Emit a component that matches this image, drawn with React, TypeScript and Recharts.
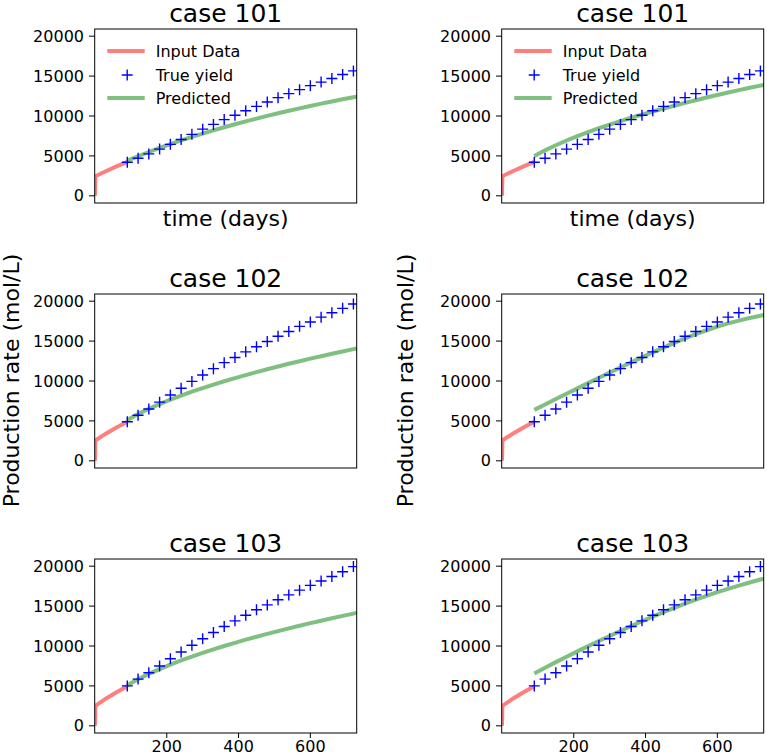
import { ComposedChart, Line, XAxis, YAxis } from "recharts"

const FONT = "'DejaVu Sans', sans-serif"

// x values (days)
const inputDays = [0, 1, 30, 60, 90]
const yieldDays = [90, 120, 150, 180, 210, 240, 270, 300, 330, 360, 390, 420, 450, 480, 510, 540, 570, 600, 630, 660, 690, 720]
const predictedDays = [90, 120, 150, 180, 210, 240, 270, 300, 330, 360, 390, 420, 450, 480, 510, 540, 570, 600, 630, 660, 690, 720, 730]

const xTicks = [200, 400, 600]
const yTicks = [0, 5000, 10000, 15000, 20000]
const caseNames = ["case 101", "case 102", "case 103"]

// input data per case
const input101 = [0, 2450, 3080, 3680, 4250]
const input102 = [0, 2550, 3400, 4180, 4900]
const input103 = [0, 2500, 3400, 4200, 4950]

// true yield per case
const true101 = [4200, 4700, 5250, 5850, 6450, 7050, 7700, 8350, 8950, 9550, 10100, 10650, 11200, 11750, 12300, 12800, 13300, 13800, 14250, 14700, 15200, 15650]
const true102 = [4900, 5700, 6500, 7350, 8250, 9100, 9950, 10750, 11550, 12300, 12950, 13650, 14300, 14950, 15600, 16200, 16850, 17400, 18000, 18550, 19100, 19650]
const true103 = [5000, 5850, 6650, 7500, 8400, 9250, 10100, 10900, 11700, 12450, 13150, 13850, 14550, 15150, 15800, 16400, 17000, 17600, 18150, 18700, 19300, 19950]

// predicted, left column
const predLeft101 = [4400, 4960, 5490, 5995, 6475, 6935, 7375, 7795, 8200, 8590, 8965, 9325, 9675, 10015, 10340, 10655, 10960, 11255, 11545, 11825, 12090, 12340, 12420]
const predLeft102 = [5100, 5850, 6515, 7115, 7665, 8175, 8660, 9115, 9550, 9965, 10360, 10745, 11115, 11470, 11815, 12155, 12480, 12800, 13110, 13410, 13705, 13995, 14090]
const predLeft103 = [5080, 5840, 6510, 7110, 7670, 8190, 8680, 9140, 9580, 10000, 10400, 10790, 11160, 11520, 11870, 12210, 12540, 12860, 13170, 13470, 13770, 14060, 14160]

// predicted, right column
const predRight101 = [5000, 5700, 6340, 6930, 7480, 7990, 8470, 8930, 9360, 9780, 10180, 10560, 10930, 11290, 11640, 11980, 12310, 12630, 12940, 13240, 13530, 13810, 13900]
const predRight102 = [6380, 7060, 7735, 8405, 9073, 9738, 10398, 11050, 11695, 12333, 12963, 13583, 14188, 14773, 15333, 15863, 16358, 16818, 17220, 17570, 17890, 18180, 18270]
const predRight103 = [6560, 7280, 7980, 8660, 9325, 9980, 10625, 11260, 11885, 12500, 13100, 13680, 14240, 14780, 15300, 15800, 16280, 16740, 17160, 17560, 17950, 18330, 18420]

const inputs = [input101, input102, input103]
const trues = [true101, true102, true103]
const preds = [
  [predLeft101, predRight101],
  [predLeft102, predRight102],
  [predLeft103, predRight103],
]

// layout
const colLeft = [94.7, 501.7]
const rowTop = [29, 294, 559]
const PW = 262
const PH = 174
const AXW = 80

const toPoints = (days: number[], values: number[]) => days.map((x, i) => ({ x, y: values[i] }))

const plus = (props: any) => {
  const { cx, cy, index } = props
  if (cx == null || cy == null) return <g key={`e-${index}`} />
  return (
    <path
      key={`p-${index}`}
      d={`M${cx - 5.5},${cy}H${cx + 5.5}M${cx},${cy - 5.5}V${cy + 5.5}`}
      stroke="#0000ff"
      strokeWidth={1.4}
      fill="none"
    />
  )
}

function Panel({ row, col }: { row: number; col: number }) {
  const last = row === 2
  const axisH = last ? 23 : 40
  return (
    <div style={{ position: "absolute", left: colLeft[col] - AXW, top: rowTop[row] - 10 }}>
      <ComposedChart width={AXW + PW + 6} height={10 + PH + axisH} margin={{ top: 10, right: 6, left: 0, bottom: 0 }}>
        <XAxis
          type="number"
          dataKey="x"
          domain={[0, 730]}
          ticks={xTicks}
          allowDataOverflow
          axisLine={false}
          tickSize={5}
          tickMargin={2.5}
          height={axisH}
          tick={last ? { fontSize: 16, fontFamily: FONT, fill: "#000" } : false}
          tickLine={{ stroke: "#000" }}
        />
        <YAxis
          type="number"
          domain={[-900, 20900]}
          ticks={yTicks}
          allowDataOverflow
          axisLine={false}
          width={AXW}
          tickSize={6}
          tickMargin={5}
          tick={{ fontSize: 16, fontFamily: FONT, fill: "#000" }}
          tickLine={{ stroke: "#000" }}
        />
        <Line
          data={toPoints(inputDays, inputs[row])}
          dataKey="y"
          type="linear"
          stroke="#ff0000"
          strokeOpacity={0.5}
          strokeWidth={4}
          dot={false}
          activeDot={false}
          isAnimationActive={false}
        />
        <Line
          data={toPoints(yieldDays, trues[row])}
          dataKey="y"
          stroke="none"
          dot={plus}
          activeDot={false}
          isAnimationActive={false}
        />
        <Line
          data={toPoints(predictedDays, preds[row][col])}
          dataKey="y"
          type="linear"
          stroke="#008000"
          strokeOpacity={0.5}
          strokeWidth={4}
          dot={false}
          activeDot={false}
          isAnimationActive={false}
        />
      </ComposedChart>
    </div>
  )
}

function Legend({ col }: { col: number }) {
  const x0 = colLeft[col]
  const rows = [51, 75, 98]
  return (
    <g>
      <line x1={x0 + 12.6} x2={x0 + 50} y1={rows[0]} y2={rows[0]} stroke="#ff0000" strokeOpacity={0.5} strokeWidth={4} />
      <path
        d={`M${x0 + 27},${rows[1]}H${x0 + 38}M${x0 + 32.5},${rows[1] - 5.5}V${rows[1] + 5.5}`}
        stroke="#0000ff"
        strokeWidth={1.4}
        fill="none"
      />
      <line x1={x0 + 12.6} x2={x0 + 50} y1={rows[2]} y2={rows[2]} stroke="#008000" strokeOpacity={0.5} strokeWidth={4} />
      <text x={x0 + 61} y={rows[0] + 6} fontSize={16} fontFamily={FONT} fill="#000">Input Data</text>
      <text x={x0 + 61} y={rows[1] + 6} fontSize={16} fontFamily={FONT} fill="#000">True yield</text>
      <text x={x0 + 61} y={rows[2] + 6} fontSize={16} fontFamily={FONT} fill="#000">Predicted</text>
    </g>
  )
}

export default function App() {
  return (
    <div style={{ position: "absolute", left: 0, top: 0, width: 767, height: 756, background: "#fff", overflow: "hidden" }}>
      {[0, 1, 2].map((r) => [0, 1].map((c) => <Panel key={`${r}-${c}`} row={r} col={c} />))}
      <svg width={767} height={756} style={{ position: "absolute", left: 0, top: 0, pointerEvents: "none" }}>
        {rowTop.map((t, r) =>
          colLeft.map((l, c) => (
            <g key={`f-${r}-${c}`}>
              <rect x={l} y={t} width={PW} height={PH} fill="none" stroke="#000" strokeWidth={1} />
              <text x={l + PW / 2} y={t - 7} textAnchor="middle" fontSize={25} fontFamily={FONT} fill="#000">
                {caseNames[r]}
              </text>
            </g>
          ))
        )}
        {colLeft.map((l, c) => (
          <text key={`xl-${c}`} x={l + PW / 2} y={226} textAnchor="middle" fontSize={22} fontFamily={FONT} fill="#000">
            time (days)
          </text>
        ))}
        {[19, 413].map((x, c) => (
          <text
            key={`yl-${c}`}
            x={x}
            y={380.5}
            textAnchor="middle"
            fontSize={22}
            fontFamily={FONT}
            fill="#000"
            transform={`rotate(-90, ${x}, 380.5)`}
          >
            Production rate (mol/L)
          </text>
        ))}
        <Legend col={0} />
        <Legend col={1} />
      </svg>
    </div>
  )
}
